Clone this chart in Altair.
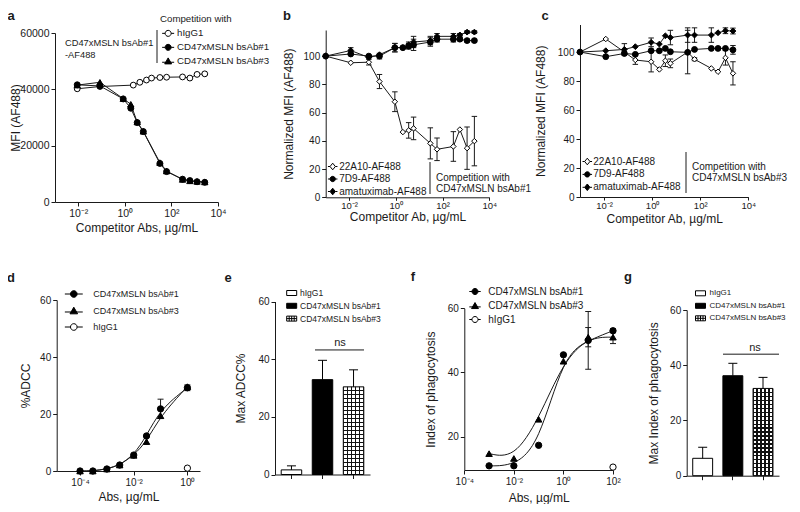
import altair as alt
import pandas as pd

FONT = "Liberation Sans"
INK = "#1a1a1a"
W, H = 784, 496

# ---------------- data ----------------
# panel a
A_X = [0.009, 0.085, 0.85, 1.8, 3.4, 6.2, 32, 62, 300, 620, 1260, 2700]
A_BS1 = [41600, 41200, 36600, 33300, 28200, 25000, 13700, 10800, 8100, 7600, 7200, 7000]
A_BS3 = [41500, 42500, 36700, 34700, 28400, 25100, 14000, 11000, 8000, 7500, 7300, 7100]
A_X_IGG = [0.009, 0.085, 2.3, 4.4, 8.5, 14, 32, 62, 300, 620, 1260, 2700]
A_IGG = [40200, 41000, 41500, 42500, 43300, 44000, 44200, 44300, 44400, 44000, 45300, 45500]
A_SERIES = ["hIgG1", "CD47xMSLN bsAb#1", "CD47xMSLN bsAb#3"]

# panels b, c
BC_SERIES = ["22A10-AF488", "7D9-AF488", "amatuximab-AF488"]
BC_X = [0.001, 0.0118, 0.07, 0.2, 0.91, 2.0, 3.55, 5.75, 30, 58, 290, 550, 1120, 2300]
B_22A10 = [100, 95.3, 95.7, 82, 67.7, 46.2, 47.4, 48.8, 38.2, 34, 36, 48, 34.8, 39.8]
B_22A10_SD = [0, 0, 2, 5, 7, 0, 5.5, 8, 11, 8, 10.5, 0, 15, 17.5]
B_7D9 = [100, 101.5, 100, 100, 106, 106, 107, 108, 110, 112, 112, 112, 111, 111]
B_7D9_SD = [0, 0, 0, 2, 3, 0, 2, 4, 3, 2, 2, 1, 1, 1]
B_AMA = [100, 104, 99, 101, 106, 106, 108, 110, 111, 114, 114, 115, 117, 117]
B_AMA_SD = [0, 2, 0, 0, 3, 0, 2, 4, 3, 2, 2, 1, 1, 1]
C_22A10 = [100, 109, 100, 94.5, 93.3, 88, 94, 92.2, 100, 95, 88.7, 86.4, 96, 85.3]
C_22A10_SD = [0, 0, 0, 3, 7, 0, 4, 3, 15, 1, 0, 0, 5, 8]
C_7D9 = [100, 96.8, 99, 98.4, 100.9, 100.9, 102.5, 100.2, 99.8, 101.8, 102.5, 102.5, 102.5, 101.5]
C_7D9_SD = [0, 0, 0, 0, 0, 0, 0, 0, 0, 0, 0, 0, 0, 3]
C_AMA = [100, 100.9, 101.8, 103.7, 106.7, 105.5, 111.2, 110, 111.7, 111.7, 111.7, 113.3, 114.7, 114.5]
C_AMA_SD = [0, 0, 4, 0, 3, 0, 0, 5, 5, 5, 5, 0, 2, 2]

# panel d
DF_SERIES = ["CD47xMSLN bsAb#1", "CD47xMSLN bsAb#3", "hIgG1"]
D_X = [0.0001, 0.0003, 0.001, 0.003, 0.01, 0.03, 0.1, 1]
D_BS1 = [0, 0, 0.7, 2.1, 5.6, 12.3, 21.8, 29.2]
D_BS1_SD = [0, 0, 0, 0, 0, 0, 3.4, 1]
D_BS3 = [0, 0, 0.7, 2.1, 5.5, 10.3, 19.4, 29.6]
D_X_IGG = [1]
D_IGG = [1]

# panel f
F_X = [0.001, 0.01, 0.1, 1, 10, 100]
F_BS1 = [10.9, 10.9, 17.3, 45.5, 50, 53]
F_BS1_SD = [0, 0, 0, 0, 9, 0.6]
F_BS3 = [14.7, 13.2, 25.4, 43.5, 51, 51]
F_BS3_SD = [0, 0, 0, 0, 3, 2]
F_X_IGG = [100]
F_IGG = [10.5]

# panels e, g
BAR_GROUPS = ["hIgG1", "CD47xMSLN bsAb#1", "CD47xMSLN bsAb#3"]
E_MEAN = [1.6, 32.9, 30.4]
E_SD = [1.4, 6.7, 5.9]
E_NS = [43.2]
G_MEAN = [6.3, 36.2, 31.6]
G_SD = [4.0, 4.5, 4.0]
G_NS = [44.0]


def px(v):
    return v - 8


EXP = ("'10' + (round(log(datum.value)/LN10) == -4 ? '⁻⁴' : "
       "round(log(datum.value)/LN10) == -2 ? '⁻²' : "
       "round(log(datum.value)/LN10) == 0 ? '⁰' : "
       "round(log(datum.value)/LN10) == 2 ? '²' : '⁴')")


def frame(parts):
    out = []
    for name, xs, ys, sds in parts:
        out.append(pd.DataFrame({"x": xs, "y": ys, "err": sds, "series": name}))
    return pd.concat(out, ignore_index=True)


def log_x(dom, r0, r1):
    return alt.Scale(type="log", domain=dom, range=[px(r0), px(r1)], nice=False)


def lin_y(dom, bot, top):
    return alt.Scale(type="linear", domain=dom, range=[px(bot), px(top)], nice=False, zero=False)


def x_axis(axis_y, title=None, title_y=None, values=None, log=False, labels=True, **extra):
    kw = dict(orient="bottom", offset=px(axis_y) - H, labelFlush=False, labelOverlap=False)
    if title is None:
        kw["title"] = None
    else:
        kw.update(title=title, titleY=title_y - axis_y, titleBaseline="middle")
    if values is not None:
        kw["values"] = values
    if log:
        kw["labelExpr"] = EXP
    if not labels:
        kw["labels"] = False
    kw.update(extra)
    return alt.Axis(**kw)


def y_axis(axis_x, values, title, title_x, fmt=None, **extra):
    kw = dict(orient="left", values=values, title=title, labelFlush=False, labelOverlap=False,
              offset=-px(axis_x), titleX=title_x - axis_x, titleBaseline="middle")
    if fmt:
        kw["format"] = fmt
    kw.update(extra)
    return alt.Axis(**kw)


def line_panel(df, xs, ys, xax, yax, styles, interp, line_series, cap_size):
    lines = alt.Chart(df).transform_filter(
        alt.FieldOneOfPredicate(field="series", oneOf=line_series)
    ).mark_line(color=INK, strokeWidth=1, interpolate=interp).encode(
        x=alt.X("x:Q", scale=xs, axis=xax),
        y=alt.Y("y:Q", scale=ys, axis=yax),
        detail="series:N",
    )
    errs = alt.Chart(df).transform_filter("datum.err > 0").transform_calculate(
        lo="datum.y - datum.err", hi="datum.y + datum.err")
    rules = errs.mark_rule(color=INK, strokeWidth=1).encode(
        x=alt.X("x:Q", scale=xs, axis=None),
        y=alt.Y("lo:Q", scale=ys, axis=None), y2="hi:Q")
    cap_hi = errs.mark_point(shape="stroke", size=cap_size, color=INK, strokeWidth=1, opacity=1).encode(
        x=alt.X("x:Q", scale=xs, axis=None), y=alt.Y("hi:Q", scale=ys, axis=None))
    cap_lo = errs.mark_point(shape="stroke", size=cap_size, color=INK, strokeWidth=1, opacity=1).encode(
        x=alt.X("x:Q", scale=xs, axis=None), y=alt.Y("lo:Q", scale=ys, axis=None))
    pts = []
    for name, shape, fill, size in styles:
        pts.append(alt.Chart(df).transform_filter(alt.datum.series == name).mark_point(
            shape=shape, filled=True, fill=fill, stroke="black", strokeWidth=1, size=size, opacity=1
        ).encode(x=alt.X("x:Q", scale=xs, axis=None), y=alt.Y("y:Q", scale=ys, axis=None)))
    return [lines, rules, cap_hi, cap_lo] + pts


def stripes(n, w, vertical):
    stops = []
    for i in range(n + 1):
        a = i / n
        lo = max(a - w / 2, 0)
        hi = min(a + w / 2, 1)
        stops += [alt.GradientStop(offset=lo, color="transparent"),
                  alt.GradientStop(offset=lo, color="#111111"),
                  alt.GradientStop(offset=hi, color="#111111"),
                  alt.GradientStop(offset=hi, color="transparent")]
    if vertical:
        return alt.LinearGradient(gradient="linear", stops=stops, x1=0, x2=1, y1=0, y2=0)
    return alt.LinearGradient(gradient="linear", stops=stops, x1=0, x2=0, y1=0, y2=1)


GRAD_V = stripes(5, 0.06, True)
GRAD_H = stripes(22, 0.014, False)


def bar_panel(means, sds, ns, x0, x1, ybot, ytop, yax, ns_x0, ns_x1, ns_tx, ns_ty):
    df = pd.DataFrame({"g": BAR_GROUPS, "m": means, "sd": sds})
    xs = alt.Scale(type="band", domain=BAR_GROUPS, range=[px(x0), px(x1)], paddingInner=0.34, paddingOuter=0.2)
    ys = lin_y([0, 60], ybot, ytop)
    X0 = alt.X("g:N", scale=xs, axis=None)
    bars = alt.Chart(df).mark_bar(stroke="black", strokeWidth=1).encode(
        x=alt.X("g:N", scale=xs, axis=x_axis(ybot, labels=False)),
        y=alt.Y("m:Q", scale=ys, axis=yax),
        fill=alt.Fill("g:N", scale=alt.Scale(domain=BAR_GROUPS, range=["white", "black", "white"]), legend=None),
    )
    pat = alt.Chart(df).transform_filter(alt.datum.g == BAR_GROUPS[2])
    vs = pat.mark_bar(fill=GRAD_V, strokeWidth=0).encode(x=X0, y=alt.Y("m:Q", scale=ys, axis=None))
    hs = pat.mark_bar(fill=GRAD_H, strokeWidth=0).encode(x=X0, y=alt.Y("m:Q", scale=ys, axis=None))
    eb = alt.Chart(df).transform_calculate(hi="datum.m + datum.sd")
    err = eb.mark_rule(color="black", strokeWidth=1).encode(
        x=X0, y=alt.Y("m:Q", scale=ys, axis=None), y2="hi:Q")
    cap = eb.mark_point(shape="stroke", size=81, color="black", strokeWidth=1, opacity=1).encode(
        x=X0, y=alt.Y("hi:Q", scale=ys, axis=None))
    nsdf = pd.DataFrame({"v": ns, "t": ["ns"]})
    ns_rule = alt.Chart(nsdf).mark_rule(color=INK, strokeWidth=1).encode(
        x=alt.value(px(ns_x0)), x2=alt.value(px(ns_x1)), y=alt.Y("v:Q", scale=ys, axis=None))
    ns_text = alt.Chart(nsdf).mark_text(font=FONT, fontSize=11, color=INK, baseline="middle").encode(
        x=alt.value(px(ns_tx)), y=alt.value(px(ns_ty)), text="t:N")
    return [bars, vs, hs, err, cap, ns_rule, ns_text]


def legend_layer(names, paths, fills, lx, ly, fs, row_pad, label_off, sym_size):
    leg = alt.Legend(title=None, orient="none", legendX=px(lx), legendY=px(ly), labelFontSize=fs,
                     labelFont=FONT, labelColor=INK, rowPadding=row_pad, labelOffset=label_off,
                     symbolSize=sym_size, symbolStrokeWidth=1, padding=0)
    return alt.Chart(pd.DataFrame({"s": names})).transform_filter("false").mark_point(
        filled=True, strokeWidth=1, opacity=1
    ).encode(
        shape=alt.Shape("s:N", scale=alt.Scale(domain=names, range=paths), legend=leg),
        fill=alt.Fill("s:N", scale=alt.Scale(domain=names, range=fills), legend=leg),
        stroke=alt.Stroke("s:N", scale=alt.Scale(domain=names, range=["black", "black", "black"]), legend=leg),
    )


def text(t, x, y, size=10, weight="normal", align="left"):
    return alt.Chart(pd.DataFrame({"t": [t]})).mark_text(
        font=FONT, fontSize=size, fontWeight=weight, align=align, baseline="middle", color=INK
    ).encode(x=alt.value(px(x)), y=alt.value(px(y)), text="t:N")


def vline(x, y0, y1):
    return alt.Chart(pd.DataFrame({"k": [0]})).mark_rule(color=INK, strokeWidth=1).encode(
        x=alt.value(px(x)), y=alt.value(px(y0)), y2=alt.value(px(y1)))


def circ(k):
    return f"M-{k},0H-1M1,0H{k}M1,0A1,1 0 1,1 -1,0A1,1 0 1,1 1,0Z"


def tri(k):
    return f"M-{k},0.3H{k}M0,-1.15L1.15,0.85L-1.15,0.85Z"


def dia(k):
    return f"M-{k},0H-1M1,0H{k}M0,-1.25L1,0L0,1.25L-1,0Z"


RECT = "M-1,-0.5H1V0.5H-1Z"
GRID = "M-1,-0.5H1V0.5H-1ZM-0.5,-0.5V0.5M0,-0.5V0.5M0.5,-0.5V0.5M-1,0H1"

# ---------------- panel a ----------------
dfa = frame([(A_SERIES[1], A_X, A_BS1, [0] * len(A_X)),
             (A_SERIES[2], A_X, A_BS3, [0] * len(A_X)),
             (A_SERIES[0], A_X_IGG, A_IGG, [0] * len(A_X_IGG))])
pa = line_panel(
    dfa, log_x([1e-3, 1e4], 55, 218), lin_y([0, 60000], 202, 33),
    x_axis(202, "Competitor Abs, µg/mL", 227, [1e-2, 1, 1e2, 1e4], log=True, labelFontSize=10.5),
    y_axis(55, [0, 20000, 40000, 60000], "MFI (AF488)", 15, fmt="d", labelFontSize=10.5),
    [(A_SERIES[0], "circle", "white", 34), (A_SERIES[2], "triangle-up", "black", 40),
     (A_SERIES[1], "circle", "black", 36)],
    "linear", A_SERIES, 30)

# ---------------- panels b, c ----------------
dfb = frame([(BC_SERIES[0], BC_X, B_22A10, B_22A10_SD), (BC_SERIES[1], BC_X, B_7D9, B_7D9_SD),
             (BC_SERIES[2], BC_X, B_AMA, B_AMA_SD)])
BC_STYLES = [(BC_SERIES[0], "diamond", "white", 30), (BC_SERIES[1], "circle", "black", 34),
             (BC_SERIES[2], "diamond", "black", 34)]
pb = line_panel(
    dfb, log_x([1e-3, 1e4], 325.7, 489.3), lin_y([0, 118.5], 197.3, 30),
    x_axis(197.3, "Competitor Ab, µg/mL", 216, [1e-2, 1, 1e2, 1e4], log=True,
           tickSize=3, labelPadding=0, labelFontSize=9.5),
    y_axis(325.7, [0, 20, 40, 60, 80, 100], "Normalized MFI (AF488)", 288),
    BC_STYLES, "linear", BC_SERIES, 30)
dfc = frame([(BC_SERIES[0], BC_X, C_22A10, C_22A10_SD), (BC_SERIES[1], BC_X, C_7D9, C_7D9_SD),
             (BC_SERIES[2], BC_X, C_AMA, C_AMA_SD)])
pc = line_panel(
    dfc, log_x([1e-3, 1e4], 580, 748.3), lin_y([0, 119], 197, 24.5),
    x_axis(197, "Competitor Ab, µg/mL", 218, [1e-2, 1, 1e2, 1e4], log=True,
           tickSize=3, labelPadding=0, labelFontSize=9.5),
    y_axis(580, [0, 20, 40, 60, 80, 100], "Normalized MFI (AF488)", 540),
    BC_STYLES, "linear", BC_SERIES, 30)

# ---------------- panel d ----------------
dfd = frame([(DF_SERIES[0], D_X, D_BS1, D_BS1_SD), (DF_SERIES[1], D_X, D_BS3, [0] * len(D_X)),
             (DF_SERIES[2], D_X_IGG, D_IGG, [0])])
DF_STYLES = [(DF_SERIES[2], "circle", "white", 40), (DF_SERIES[1], "triangle-up", "black", 42),
             (DF_SERIES[0], "circle", "black", 40)]
pd_ = line_panel(
    dfd, log_x([10 ** -4.87, 10 ** 0.47], 56.7, 200), lin_y([0, 60], 471, 300),
    x_axis(471, "Abs, µg/mL", 496.5, [1e-4, 1e-2, 1], log=True),
    y_axis(56.7, [0, 20, 40, 60], "%ADCC", 25),
    DF_STYLES, "basis", DF_SERIES[:2], 36)

# ---------------- panel f ----------------
dff = frame([(DF_SERIES[0], F_X, F_BS1, F_BS1_SD), (DF_SERIES[1], F_X, F_BS3, F_BS3_SD),
             (DF_SERIES[2], F_X_IGG, F_IGG, [0])])
pf = line_panel(
    dff, log_x([1e-4, 1e2], 464.3, 613), lin_y([9.6, 60], 470, 308.3),
    x_axis(470, "Abs, µg/mL", 497, [1e-4, 1e-2, 1, 1e2], log=True),
    y_axis(464.3, [20, 40, 60], "Index of phagocytosis", 430),
    DF_STYLES, "basis", DF_SERIES[:2], 36)

# ---------------- bars e, g ----------------
pe = bar_panel(E_MEAN, E_SD, E_NS, 275, 370, 474.5, 301.5,
               y_axis(275, [0, 20, 40, 60], "Max ADCC%", 240), 315, 364, 340, 343)
pg = bar_panel(G_MEAN, G_SD, G_NS, 686.7, 779, 475.7, 310,
               y_axis(686.7, [0, 20, 40, 60], "Max Index of phagocytosis", 653), 723, 779, 755, 347.5)

# ---------------- legends ----------------
la = legend_layer(A_SERIES, [circ(2), circ(2), tri(2)], ["white", "black", "black"],
                  163.3, 28.5, 9.7, 3, 4, 36)
lb = legend_layer(BC_SERIES, [dia(1.8), circ(1.8), dia(1.8)], ["white", "black", "black"],
                  327.7, 161.5, 10, 1.5, 1.5, 28)
lc = legend_layer(BC_SERIES, [dia(1.8), circ(1.8), dia(1.8)], ["white", "black", "black"],
                  582.3, 156.5, 10, 1.9, 1, 28)
ld = legend_layer(DF_SERIES, [circ(2.7), tri(2.7), circ(2.7)], ["black", "black", "white"],
                  69.3, 289.5, 9, 5, 15, 44)
lf = legend_layer(DF_SERIES, [circ(1.9), tri(1.9), circ(1.9)], ["black", "black", "white"],
                  470, 286.5, 10, 3.5, 8.3, 36)
le = legend_layer(BAR_GROUPS, [RECT, RECT, GRID], ["white", "black", "white"],
                  286.2, 287.5, 8.5, 2.8, 2.8, 100)
lg = legend_layer(BAR_GROUPS, [RECT, RECT, GRID], ["white", "black", "white"],
                  695, 287.8, 8, 2.5, 3.5, 100)

# ---------------- annotations ----------------
notes = [
    text("a", 11, 16, 13, "bold", "center"), text("b", 287, 16, 13, "bold", "center"),
    text("c", 545, 16, 13, "bold", "center"), text("d", 11, 278, 13, "bold", "center"),
    text("e", 228, 278, 13, "bold", "center"), text("f", 413, 277, 13, "bold", "center"),
    text("g", 628, 277, 13, "bold", "center"),
    text("CD47xMSLN bsAb#1", 65, 43, 9.3), text("-AF488", 65, 55, 9.3),
    text("Competition with", 160, 19, 9.7), vline(157, 30, 63),
    vline(430, 162, 194), text("Competition with", 436, 177.7), text("CD47xMSLN bsAb#1", 436, 188.5),
    vline(686, 152, 193), text("Competition with", 692, 166.7), text("CD47xMSLN bsAb#3", 692, 178.3),
]

chart = alt.layer(
    *pa, *pb, *pc, *pd_, *pe, *pf, *pg,
    la, lb, lc, ld, le, lf, lg, *notes
).resolve_scale(
    x="independent", y="independent", shape="independent", fill="independent", stroke="independent"
).properties(
    width=W, height=H, autosize=alt.AutoSizeParams(type="none"), padding=0
).configure_axis(
    domainColor=INK, tickColor=INK, labelColor=INK, titleColor=INK, labelFont=FONT, titleFont=FONT,
    labelFontSize=10, titleFontSize=12, titleFontWeight="normal", grid=False, tickSize=4,
    labelPadding=2, domainWidth=1, tickWidth=1
).configure_view(stroke=None)

chart.save("out.html", embed_options={"renderer": "svg", "actions": False})
